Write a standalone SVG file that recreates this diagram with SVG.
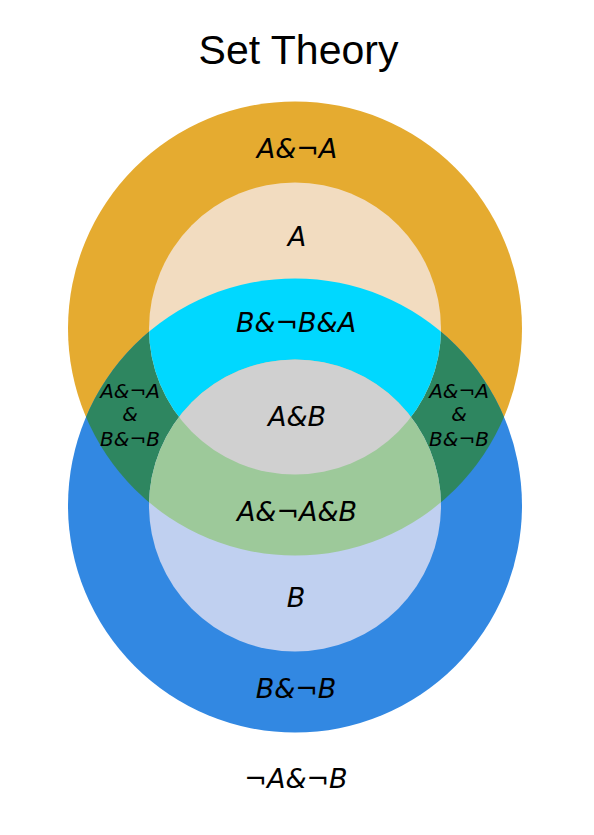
<svg xmlns="http://www.w3.org/2000/svg" width="594" height="835" viewBox="0 0 594 835">
<defs>
<clipPath id="cLA"><circle cx="295" cy="328.5" r="227"/></clipPath>
<clipPath id="cLB"><circle cx="295" cy="505.5" r="227"/></clipPath>
<clipPath id="cIB"><circle cx="295" cy="505.5" r="146"/></clipPath>
</defs>
<style>
.lbl{font-family:"DejaVu Sans",sans-serif;font-style:italic;font-size:27px;fill:#000;text-anchor:middle}
.sm{font-family:"DejaVu Sans",sans-serif;font-style:italic;font-size:20px;fill:#000;text-anchor:middle}
.title{font-family:"Liberation Sans",Arial,sans-serif;font-size:41px;fill:#000;text-anchor:middle}
</style>
<rect width="594" height="835" fill="#fff"/>
<text class="title" x="298.5" y="64">Set Theory</text>
<g id="outerA"><circle cx="295" cy="328.5" r="227" fill="#E5AB30"/></g>
<g id="outerB"><circle cx="295" cy="505.5" r="227" fill="#3288E2"/></g>
<g id="overlapAB"><circle cx="295" cy="328.5" r="227" fill="#2E8660" clip-path="url(#cLB)"/></g>
<g id="innerA"><circle cx="295" cy="328.5" r="146" fill="#F2DCC0"/></g>
<g id="innerB"><circle cx="295" cy="505.5" r="146" fill="#C0D0F0"/></g>
<g id="innerAinB"><circle cx="295" cy="328.5" r="146" fill="#00D8FF" clip-path="url(#cLB)"/></g>
<g id="innerBinA"><circle cx="295" cy="505.5" r="146" fill="#9DC99A" clip-path="url(#cLA)"/></g>
<g id="innerAB"><circle cx="295" cy="328.5" r="146" fill="#D0D0D0" clip-path="url(#cIB)"/></g>
<g id="labels">
<text class="lbl" x="297" y="158">A&amp;¬A</text>
<text class="lbl" x="297" y="246">A</text>
<text class="lbl" x="296" y="332">B&amp;¬B&amp;A</text>
<text class="lbl" x="297" y="426">A&amp;B</text>
<text class="lbl" x="297" y="521">A&amp;¬A&amp;B</text>
<text class="lbl" x="296" y="607">B</text>
<text class="lbl" x="296" y="698">B&amp;¬B</text>
<text class="lbl" x="296" y="788">¬A&amp;¬B</text>
<text class="sm" x="130" y="398">A&amp;¬A</text>
<text class="sm" x="130" y="421">&amp;</text>
<text class="sm" x="130" y="446">B&amp;¬B</text>
<text class="sm" x="459" y="398">A&amp;¬A</text>
<text class="sm" x="459" y="421">&amp;</text>
<text class="sm" x="459" y="446">B&amp;¬B</text>
</g>
</svg>
